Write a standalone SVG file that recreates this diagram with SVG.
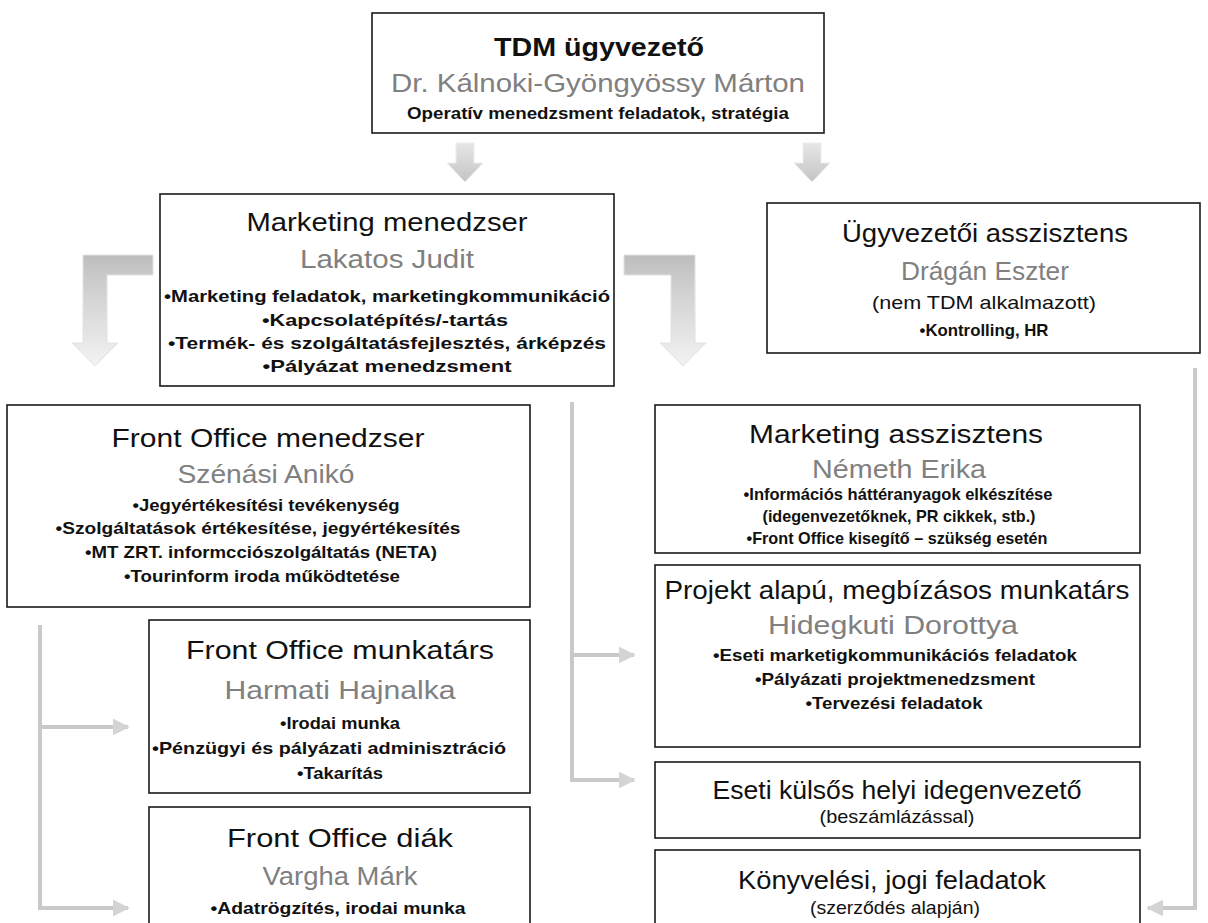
<svg xmlns="http://www.w3.org/2000/svg" width="1208" height="923" viewBox="0 0 1208 923">
<defs>
<style>
.box{fill:#ffffff;stroke:#1a1a1a;stroke-width:1.6}
text{font-family:"Liberation Sans",Arial,sans-serif;text-anchor:middle;fill:#111111}
.t{font-size:26px}
.tb{font-size:26px;font-weight:bold}
.n{font-size:26px;fill:#808080}
.b{font-size:17px;font-weight:bold}
.s{font-size:19px}
.conn{fill:none;stroke:#c9c9c9;stroke-width:4}
.bent{fill:url(#gBent);stroke:#e2e2e2;stroke-width:1}
.small{fill:url(#gSmall);stroke:#ececec;stroke-width:1}
</style>
<linearGradient id="gBent" x1="0" y1="0" x2="0" y2="1">
<stop offset="0" stop-color="#bdbdbd"/>
<stop offset="0.25" stop-color="#cdcdcd"/>
<stop offset="1" stop-color="#f3f3f3"/>
</linearGradient>
<linearGradient id="gSmall" x1="0" y1="0" x2="0" y2="1">
<stop offset="0" stop-color="#e6e6e6"/>
<stop offset="1" stop-color="#c4c4c4"/>
</linearGradient>
<marker id="ah" viewBox="0 0 10 10" refX="9" refY="5" markerWidth="4.2" markerHeight="4.2" orient="auto" markerUnits="strokeWidth">
<path d="M0,0 L10,5 L0,10 z" fill="#d4d4d4"/>
</marker>
</defs>

<g id="connectors">
<polygon class="small" points="456,143 474,143 474,163 483,163 465,182 447,163 456,163"/>
<polygon class="small" points="803,143 821,143 821,163 830,163 812,182 794,163 803,163"/>
<polygon class="bent" points="83,255 153,255 153,275 107,275 107,343 118,343 95,366 72,343 83,343"/>
<polygon class="bent" points="624,255 695,255 695,343 706,343 683,366 660,343 671,343 671,275 624,275"/>
<path class="conn" d="M40,625 V908 H128" marker-end="url(#ah)"/>
<path class="conn" d="M40,727 H128" marker-end="url(#ah)"/>
<path class="conn" d="M572,402 V780 H634" marker-end="url(#ah)"/>
<path class="conn" d="M572,655 H634" marker-end="url(#ah)"/>
<path class="conn" d="M1195,368 V908 H1148" marker-end="url(#ah)"/>
</g>

<g id="node-tdm">
<rect class="box" x="372" y="13" width="452" height="120"/>
<text class="tb" x="599" y="56" textLength="210" lengthAdjust="spacingAndGlyphs">TDM ügyvezető</text>
<text class="n" x="598" y="92" textLength="414" lengthAdjust="spacingAndGlyphs">Dr. Kálnoki-Gyöngyössy Márton</text>
<text class="b" x="598" y="119" textLength="382" lengthAdjust="spacingAndGlyphs">Operatív menedzsment feladatok, stratégia</text>
</g>

<g id="node-marketing-menedzser">
<rect class="box" x="160" y="194" width="454" height="192"/>
<text class="t" x="387" y="231" textLength="281" lengthAdjust="spacingAndGlyphs">Marketing menedzser</text>
<text class="n" x="387" y="268" textLength="174" lengthAdjust="spacingAndGlyphs">Lakatos Judit</text>
<text class="b" x="387" y="302" textLength="446" lengthAdjust="spacingAndGlyphs">•Marketing feladatok, marketingkommunikáció</text>
<text class="b" x="385" y="326" textLength="246" lengthAdjust="spacingAndGlyphs">•Kapcsolatépítés/-tartás</text>
<text class="b" x="387" y="349" textLength="438" lengthAdjust="spacingAndGlyphs">•Termék- és szolgáltatásfejlesztés, árképzés</text>
<text class="b" x="387" y="372" textLength="249" lengthAdjust="spacingAndGlyphs">•Pályázat menedzsment</text>
</g>

<g id="node-ugyvezetoi-asszisztens">
<rect class="box" x="767" y="203" width="433" height="150"/>
<text class="t" x="985" y="242" textLength="286" lengthAdjust="spacingAndGlyphs">Ügyvezetői asszisztens</text>
<text class="n" x="985" y="280" textLength="168" lengthAdjust="spacingAndGlyphs">Drágán Eszter</text>
<text class="s" x="984" y="309" textLength="224" lengthAdjust="spacingAndGlyphs">(nem TDM alkalmazott)</text>
<text class="b" x="984" y="336" textLength="129" lengthAdjust="spacingAndGlyphs">•Kontrolling, HR</text>
</g>

<g id="node-front-office-menedzser">
<rect class="box" x="7" y="405" width="523" height="202"/>
<text class="t" x="268" y="447" textLength="313" lengthAdjust="spacingAndGlyphs">Front Office menedzser</text>
<text class="n" x="266" y="483" textLength="177" lengthAdjust="spacingAndGlyphs">Szénási Anikó</text>
<text class="b" x="266" y="511" textLength="267" lengthAdjust="spacingAndGlyphs">•Jegyértékesítési tevékenység</text>
<text class="b" x="258" y="534" textLength="405" lengthAdjust="spacingAndGlyphs">•Szolgáltatások értékesítése, jegyértékesítés</text>
<text class="b" x="261" y="558" textLength="352" lengthAdjust="spacingAndGlyphs">•MT ZRT. informcciószolgáltatás (NETA)</text>
<text class="b" x="262" y="582" textLength="276" lengthAdjust="spacingAndGlyphs">•Tourinform iroda működtetése</text>
</g>

<g id="node-marketing-asszisztens">
<rect class="box" x="655" y="405" width="485" height="148"/>
<text class="t" x="896" y="443" textLength="294" lengthAdjust="spacingAndGlyphs">Marketing asszisztens</text>
<text class="n" x="899" y="478" textLength="174" lengthAdjust="spacingAndGlyphs">Németh Erika</text>
<text class="b" x="898" y="500" textLength="309" lengthAdjust="spacingAndGlyphs">•Információs háttéranyagok elkészítése</text>
<text class="b" x="899" y="522" textLength="273" lengthAdjust="spacingAndGlyphs">(idegenvezetőknek, PR cikkek, stb.)</text>
<text class="b" x="897" y="544" textLength="301" lengthAdjust="spacingAndGlyphs">•Front Office kisegítő – szükség esetén</text>
</g>

<g id="node-projekt">
<rect class="box" x="655" y="565" width="485" height="182"/>
<text class="t" x="897" y="599" textLength="465" lengthAdjust="spacingAndGlyphs">Projekt alapú, megbízásos munkatárs</text>
<text class="n" x="893" y="634" textLength="250" lengthAdjust="spacingAndGlyphs">Hidegkuti Dorottya</text>
<text class="b" x="895" y="661" textLength="364" lengthAdjust="spacingAndGlyphs">•Eseti marketigkommunikációs feladatok</text>
<text class="b" x="895" y="685" textLength="280" lengthAdjust="spacingAndGlyphs">•Pályázati projektmenedzsment</text>
<text class="b" x="894" y="709" textLength="177" lengthAdjust="spacingAndGlyphs">•Tervezési feladatok</text>
</g>

<g id="node-front-office-munkatars">
<rect class="box" x="149" y="620" width="381" height="173"/>
<text class="t" x="340" y="659" textLength="308" lengthAdjust="spacingAndGlyphs">Front Office munkatárs</text>
<text class="n" x="340" y="699" textLength="231" lengthAdjust="spacingAndGlyphs">Harmati Hajnalka</text>
<text class="b" x="340" y="729" textLength="120" lengthAdjust="spacingAndGlyphs">•Irodai munka</text>
<text class="b" x="329" y="754" textLength="354" lengthAdjust="spacingAndGlyphs">•Pénzügyi és pályázati adminisztráció</text>
<text class="b" x="340" y="779" textLength="86" lengthAdjust="spacingAndGlyphs">•Takarítás</text>
</g>

<g id="node-eseti">
<rect class="box" x="655" y="762" width="485" height="76"/>
<text class="t" x="897" y="799" textLength="369" lengthAdjust="spacingAndGlyphs">Eseti külsős helyi idegenvezető</text>
<text class="s" x="897" y="823" textLength="155" lengthAdjust="spacingAndGlyphs">(beszámlázással)</text>
</g>

<g id="node-front-office-diak">
<rect class="box" x="149" y="807" width="381" height="130"/>
<text class="t" x="340" y="847" textLength="226" lengthAdjust="spacingAndGlyphs">Front Office diák</text>
<text class="n" x="340" y="885" textLength="155" lengthAdjust="spacingAndGlyphs">Vargha Márk</text>
<text class="b" x="338" y="914" textLength="255" lengthAdjust="spacingAndGlyphs">•Adatrögzítés, irodai munka</text>
</g>

<g id="node-konyveles">
<rect class="box" x="655" y="850" width="485" height="90"/>
<text class="t" x="892" y="889" textLength="308" lengthAdjust="spacingAndGlyphs">Könyvelési, jogi feladatok</text>
<text class="s" x="895" y="914" textLength="170" lengthAdjust="spacingAndGlyphs">(szerződés alapján)</text>
</g>
</svg>
